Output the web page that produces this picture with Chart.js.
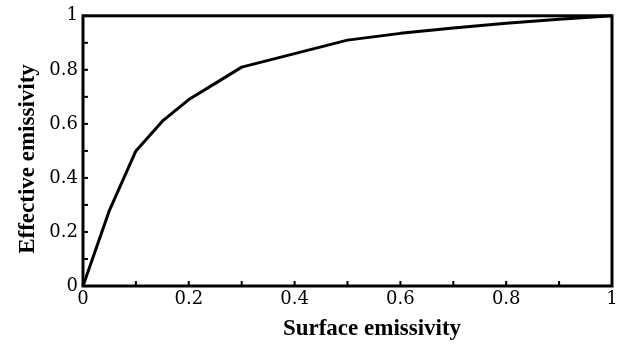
<!DOCTYPE html>
<html>
<head>
<meta charset="utf-8">
<script src="https://cdn.jsdelivr.net/npm/chart.js@4/dist/chart.umd.min.js"></script>
<style>
  body { margin: 0; background: #fff; }
  canvas { display: block; }
</style>
</head>
<body>
<canvas id="chart" width="628" height="345"></canvas>
<script>
// surface emissivity (x) vs effective emissivity (y)
const surfaceEmissivity   = [0, 0.05, 0.1, 0.15, 0.2, 0.25, 0.3, 0.4, 0.5, 0.6, 0.7, 0.8, 0.9, 1.0];
const effectiveEmissivity = [0, 0.28, 0.5, 0.61, 0.69, 0.75, 0.81, 0.86, 0.91, 0.935, 0.955, 0.972, 0.987, 1.0];

const xTickLabels = ['0', '0.2', '0.4', '0.6', '0.8', '1'];
const yTickLabels = ['0', '0.2', '0.4', '0.6', '0.8', '1'];
const xTitle = 'Surface emissivity';
const yTitle = 'Effective emissivity';

const points = surfaceEmissivity.map((x, i) => ({ x: x, y: effectiveEmissivity[i] }));

// label every other tick (0.2 steps), minor ticks stay unlabeled
function tickLabel(labels) {
  return (v) => {
    const r = Math.round(v * 10);
    return r % 2 ? '' : labels[r / 2];
  };
}

// frame + inward tick marks + axis titles
const framePlugin = {
  id: 'frame',
  afterDatasetsDraw(chart) {
    const ctx = chart.ctx;
    const a = chart.chartArea;
    const xs = chart.scales.x;
    const ys = chart.scales.y;
    ctx.save();
    ctx.strokeStyle = '#000';
    ctx.lineWidth = 2;
    xs.ticks.forEach(t => {
      const px = xs.getPixelForValue(t.value);
      ctx.beginPath();
      ctx.moveTo(px, a.bottom);
      ctx.lineTo(px, a.bottom - 5);
      ctx.stroke();
    });
    ys.ticks.forEach(t => {
      const py = ys.getPixelForValue(t.value);
      ctx.beginPath();
      ctx.moveTo(a.left, py);
      ctx.lineTo(a.left + 5, py);
      ctx.stroke();
    });
    ctx.lineWidth = 3;
    ctx.strokeRect(a.left, a.top, a.right - a.left, a.bottom - a.top);

    ctx.fillStyle = '#000';
    ctx.font = 'bold 23px "Liberation Serif", serif';
    ctx.textAlign = 'center';
    ctx.textBaseline = 'alphabetic';
    ctx.fillText(xTitle, 372, 335);
    ctx.translate(34, 159);
    ctx.rotate(-Math.PI / 2);
    ctx.fillText(yTitle, 0, 0);
    ctx.restore();
  }
};

const config = {
  type: 'line',
  data: {
    datasets: [{
      data: points,
      borderColor: '#000',
      borderWidth: 3,
      pointRadius: 0,
      tension: 0,
      fill: false,
      clip: false,
      borderJoinStyle: 'round'
    }]
  },
  options: {
    responsive: false,
    animation: false,
    devicePixelRatio: 1,
    layout: { padding: { top: 14, right: 16, left: 0, bottom: 0 } },
    plugins: { legend: { display: false }, tooltip: { enabled: false } },
    scales: {
      x: {
        type: 'linear',
        min: 0,
        max: 1,
        grid: { display: false, drawTicks: false },
        border: { display: false },
        afterFit(scale) { scale.height = 59; },
        ticks: {
          stepSize: 0.1,
          autoSkip: false,
          maxRotation: 0,
          padding: 3,
          color: '#000',
          font: { family: '"DejaVu Serif", serif', size: 18 },
          callback: tickLabel(xTickLabels)
        }
      },
      y: {
        min: 0,
        max: 1,
        grid: { display: false, drawTicks: false },
        border: { display: false },
        afterFit(scale) { scale.width = 83; },
        ticks: {
          stepSize: 0.1,
          autoSkip: false,
          padding: 5,
          color: '#000',
          font: { family: '"DejaVu Serif", serif', size: 18 },
          callback: tickLabel(yTickLabels)
        }
      }
    }
  },
  plugins: [framePlugin]
};

const chart = new Chart(document.getElementById('chart'), config);
</script>
</body>
</html>
